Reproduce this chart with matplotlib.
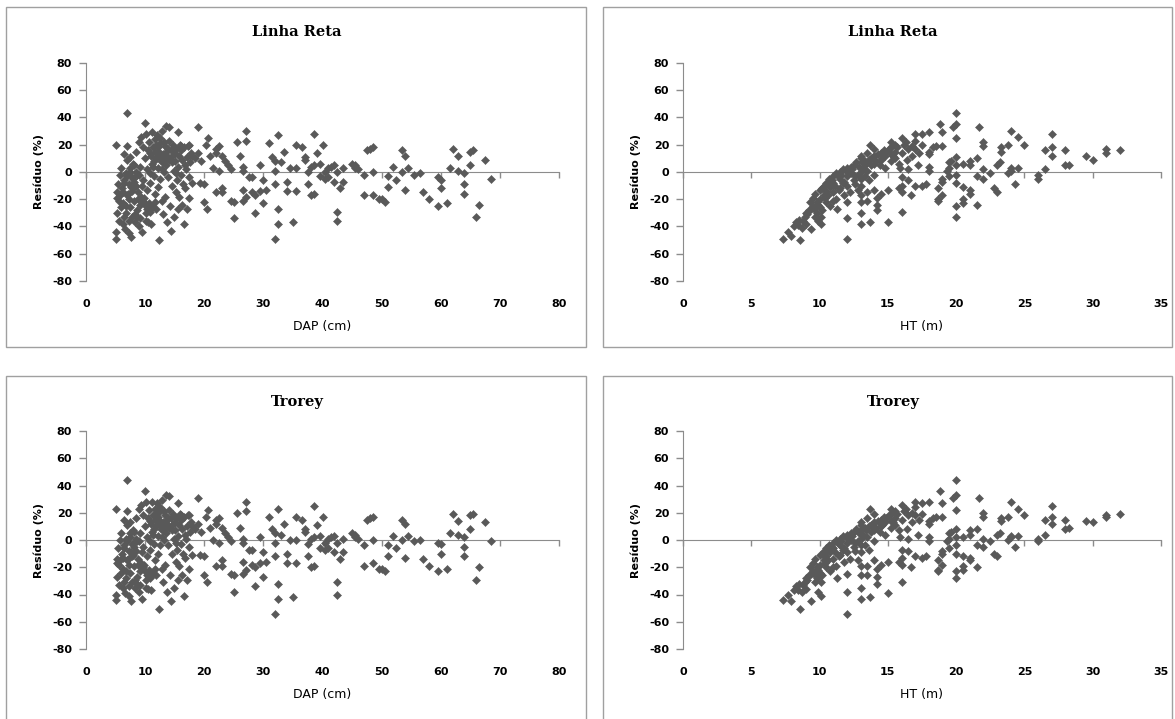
"""
Residue plots (Linha Reta vs Trorey) against DAP and HT, Excel-style 2x2 panels.
"""

import matplotlib
matplotlib.use("Agg")
import matplotlib.pyplot as plt
from matplotlib.patches import Rectangle

# ---- data ----
dap_cm = [
    5.0, 5.1, 5.0, 5.2, 5.3, 5.4, 5.5, 5.6, 5.7, 5.8,
    6.0, 6.1, 6.2, 6.3, 6.4, 6.5, 6.6, 6.7, 6.8, 6.9,
    7.0, 7.0, 7.1, 7.2, 7.3, 7.4, 7.5, 7.6, 7.7, 7.8,
    7.9, 8.0, 8.1, 8.2, 8.3, 8.4, 8.5, 8.6, 8.7, 8.8,
    8.9, 9.0, 9.1, 9.2, 9.3, 9.4, 9.5, 9.6, 9.7, 9.8,
    9.9, 10.0, 10.1, 10.2, 10.3, 10.4, 10.5, 10.6, 10.7, 10.8,
    10.9, 11.0, 11.1, 11.2, 11.3, 11.4, 11.5, 11.6, 11.7, 11.8,
    11.9, 12.0, 12.1, 12.2, 12.3, 12.4, 12.5, 12.6, 12.7, 12.8,
    12.9, 13.0, 13.1, 13.2, 13.3, 13.4, 13.5, 13.6, 13.7, 13.8,
    13.9, 14.0, 14.1, 14.2, 14.3, 14.4, 14.5, 14.6, 14.7, 14.8,
    14.9, 15.0, 15.2, 15.3, 15.4, 15.5, 15.6, 15.8, 15.9, 16.0,
    16.2, 16.3, 16.5, 16.6, 16.8, 16.9, 17.0, 17.2, 17.4, 17.6,
    6.5, 7.0, 7.5, 8.0, 8.5, 7.2, 7.8, 6.8, 8.2, 9.0,
    7.4, 6.2, 8.8, 7.6, 6.9, 11.0, 11.5, 12.0, 12.5, 13.0,
    13.5, 14.0, 11.8, 12.2, 13.2, 10.5, 11.3, 12.8, 13.8, 14.5,
    15.1, 10.8, 12.6, 11.6, 13.4, 5.3, 5.9, 6.4, 7.3, 8.3,
    9.3, 9.6, 10.0, 10.4, 10.8, 11.2, 9.1, 8.7, 10.2, 11.6,
    15.3, 15.7, 16.1, 16.4, 16.7, 17.1, 17.5, 17.8, 16.0, 15.5,
    18.0, 18.5, 18.0, 17.5, 19.0, 19.0, 19.5, 19.2, 20.0, 20.0,
    20.5, 20.3, 20.7, 21.0, 21.5, 22.0, 22.0, 22.5, 22.0, 23.0,
    23.0, 22.5, 23.0, 23.5, 24.0, 24.5, 24.5, 25.0, 25.0, 25.5,
    26.0, 26.5, 26.5, 26.5, 26.5, 27.0, 27.0, 27.0, 27.5, 28.0,
    28.0, 28.5, 28.5, 29.5, 29.5, 30.0, 30.0, 30.5, 31.0, 31.5,
    32.0, 32.0, 32.0, 32.5, 32.0, 32.5, 32.5, 33.0, 33.5, 34.0,
    34.0, 34.5, 35.0, 35.5, 35.5, 35.5, 36.5, 37.0, 37.0, 37.5,
    37.5, 38.0, 38.0, 38.5, 38.5, 38.5, 39.0, 39.5, 39.5, 40.0,
    40.5, 40.5, 41.0, 41.0, 41.5, 42.0, 42.0, 42.5, 42.5, 42.5,
    43.0, 43.5, 43.5, 45.0, 45.5, 45.5, 46.0, 47.0, 47.0, 47.5,
    48.0, 48.5, 48.5, 48.5, 49.5, 50.0, 50.5, 51.0, 51.0, 52.0,
    52.5, 53.5, 53.5, 54.0, 54.0, 54.5, 55.5, 56.5, 57.0, 58.0,
    59.5, 59.5, 60.0, 60.0, 61.0, 61.5, 62.0, 63.0, 63.0, 64.0,
    64.0, 64.0, 65.0, 65.0, 65.5, 66.0, 66.5, 67.5, 68.5,
]
res_linha_dap = [
    20, -49, -44, -19, -15, -9, -21, -36, -2, -17,
    3, -12, -38, -23, -6, 13, -42, -30, -1, 9,
    43, 19, -16, -45, -9, 11, -26, -48, -4, -33,
    6, -12, -21, -7, -37, 0, 15, -28, -2, -15,
    22, -40, 4, -24, 26, -10, -44, 18, -6, -19,
    36, 10, -30, 28, -13, 2, -37, 22, -23, 14,
    -8, -38, 29, 6, -26, 18, -3, 24, -16, 10,
    -27, 27, 3, -11, 15, -50, 21, -5, 8, -21,
    30, 13, -31, 0, 19, -18, 5, 34, -37, 11,
    -4, 33, 23, -25, 16, -43, 7, -10, 20, 1,
    -33, 14, -15, 17, -6, 29, 4, -18, 20, -2,
    -24, 9, -38, 18, -12, 2, -27, 19, -4, 7,
    -8, -3, 0, -5, -10, -20, -14, -25, 5, -2,
    3, -15, -20, -11, -17, 12, 8, 14, 11, 7,
    15, 9, 20, 18, 22, 16, 4, 2, 17, 12,
    8, -1, 25, 15, 10, -30, -26, -33, -36, -31,
    -18, -21, -24, -27, -29, -25, -34, -33, -36, -22,
    -1, 12, 16, -9, 5, 11, -19, 14, 19, -27,
    12, 10, -8, 20, 33, 14, 8, -8, -9, -22,
    -27, 20, 25, 12, 3, 17, 14, 19, -15, -12,
    -15, 1, 12, 8, 5, 2, -21, -22, -34, 22,
    12, 4, 1, -13, -21, -18, 23, 30, -4, -4,
    -15, -17, -30, 5, -14, -23, -6, -13, 21, 11,
    8, 1, -9, -27, -49, -38, 27, 7, 15, -7,
    -14, 3, -37, 3, -14, 20, 18, 9, 11, 0,
    -9, 4, -17, -16, 28, 5, 14, -3, 6, 20,
    0, -5, -4, 3, 4, 5, -7, 0, -29, -36,
    -12, -7, 3, 6, 5, 3, 2, -17, -2, 16,
    17, 18, 0, -17, -20, -20, -22, -3, -11, 4,
    -6, 0, 16, 12, -13, 3, -2, -1, -15, -20,
    -25, -4, -12, -6, -23, 3, 17, 12, 1, -9,
    -16, -1, 5, 15, 16, -33, -24, 9, -5,
]
res_trorey_dap = [
    23, -44, -40, -17, -14, -6, -18, -33, 0, -15,
    5, -10, -35, -21, -4, 15, -39, -28, 1, 11,
    44, 21, -14, -41, -8, 13, -24, -45, -3, -31,
    7, -11, -19, -5, -35, 1, 16, -27, -1, -14,
    23, -38, 5, -23, 26, -9, -43, 18, -5, -18,
    36, 10, -29, 28, -12, 2, -36, 22, -22, 14,
    -7, -37, 28, 6, -25, 18, -3, 23, -15, 10,
    -26, 27, 3, -10, 15, -51, 21, -4, 8, -21,
    29, 13, -31, 0, 18, -18, 5, 33, -38, 11,
    -4, 32, 22, -26, 16, -45, 7, -10, 19, 1,
    -35, 13, -16, 16, -7, 27, 3, -19, 19, -3,
    -26, 8, -41, 17, -13, 1, -29, 18, -5, 6,
    -6, -1, 2, -3, -8, -18, -12, -23, 6, -1,
    5, -13, -18, -9, -15, 12, 8, 14, 11, 7,
    14, 9, 19, 17, 21, 16, 4, 2, 16, 11,
    7, -1, 24, 15, 10, -27, -24, -31, -34, -29,
    -17, -20, -23, -26, -28, -24, -33, -32, -35, -21,
    -2, 11, 15, -10, 4, 10, -21, 13, 18, -29,
    10, 8, -11, 18, 31, 12, 6, -11, -12, -26,
    -31, 17, 22, 9, 0, 15, 12, 16, -19, -15,
    -19, -2, 9, 5, 2, -1, -25, -26, -38, 20,
    9, 1, -2, -16, -25, -22, 21, 28, -7, -7,
    -18, -20, -34, 2, -17, -27, -9, -16, 17, 8,
    5, -2, -12, -32, -54, -43, 23, 4, 12, -10,
    -17, 0, -42, 0, -17, 17, 15, 6, 8, -3,
    -12, 1, -20, -19, 25, 2, 11, -6, 3, 17,
    -2, -7, -6, 1, 2, 3, -9, -2, -31, -40,
    -14, -9, 1, 5, 4, 2, 1, -19, -4, 15,
    16, 17, 0, -17, -21, -21, -23, -4, -12, 3,
    -6, 0, 15, 12, -13, 3, -1, 0, -14, -19,
    -23, -2, -10, -3, -21, 5, 19, 14, 4, -5,
    -12, 2, 8, 18, 19, -29, -20, 13, -1,
]

ht_m = [
    7.3, 7.7, 7.9, 8.1, 8.3, 8.5, 8.6, 8.8, 9.0, 9.0,
    9.2, 9.3, 9.4, 9.5, 9.5, 9.7, 9.8, 9.8, 9.9, 10.0,
    10.0, 10.0, 10.1, 10.1, 10.3, 10.3, 10.5, 10.5, 10.5, 10.7,
    10.8, 10.8, 11.0, 11.0, 11.0, 11.2, 11.2, 11.3, 11.5, 11.5,
    11.5, 11.7, 11.7, 11.8, 12.0, 12.0, 12.0, 12.0, 12.0, 12.0,
    12.3, 12.3, 12.5, 12.5, 12.7, 12.8, 12.8, 13.0, 13.0, 13.0,
    13.0, 13.0, 13.0, 13.0, 13.0, 13.0, 13.2, 13.3, 13.5, 13.5,
    13.5, 13.5, 13.7, 13.7, 13.8, 13.8, 14.0, 14.0, 14.0, 14.0,
    14.0, 14.2, 14.2, 14.2, 14.5, 14.5, 14.5, 14.7, 14.8, 15.0,
    15.0, 15.2, 15.2, 15.2, 15.2, 15.5, 15.5, 15.5, 15.8, 15.8,
    16.0, 16.0, 16.0, 16.0, 16.0, 16.0, 16.3, 16.5, 16.5, 16.5,
    16.7, 16.8, 17.0, 17.0, 17.0, 17.0, 17.2, 17.5, 17.5, 17.5,
    18.0, 18.0, 18.0, 18.0, 18.0, 18.5, 18.7, 18.7, 18.7, 18.8,
    19.0, 19.0, 19.0, 19.0, 19.0, 19.3, 19.5, 19.5, 19.5, 19.8,
    20.0, 20.0, 20.0, 20.0, 20.0, 20.0, 20.0, 20.0, 20.0, 20.5,
    20.5, 20.5, 20.5, 21.0, 21.0, 21.0, 21.0, 21.5, 21.5, 21.5,
    21.7, 22.0, 22.0, 22.0, 22.0, 22.5, 22.8, 23.0, 23.0, 23.2,
    23.3, 23.3, 23.8, 23.8, 24.0, 24.0, 24.0, 24.3, 24.5, 24.5,
    25.0, 26.0, 26.0, 26.5, 26.5, 27.0, 27.0, 27.0, 28.0, 28.0,
    28.3, 29.5, 30.0, 31.0, 31.0, 32.0,
    10.2, 10.6, 10.9, 11.1, 11.4, 11.6, 11.9, 12.2, 12.4, 12.6,
    12.9, 13.1, 13.4, 13.6, 13.9, 14.1, 14.3, 14.6, 14.9, 15.1,
    9.6, 9.9, 10.2, 10.4, 10.6, 11.0, 11.4, 11.8, 12.2, 12.6,
    8.9, 9.1, 9.4, 8.4, 8.7, 9.7, 13.3, 13.6, 14.4, 14.8,
    15.4, 15.7, 16.2, 16.8, 17.3, 15.9, 16.4, 17.8, 18.3, 19.6,
]
res_linha_ht = [
    -49, -44, -47, -40, -37, -35, -50, -36, -38, -30,
    -28, -22, -42, -19, -25, -16, -22, -30, -36, -13,
    -20, -26, -33, -38, -10, -17, -8, -14, -22, -5,
    -11, -25, -3, -8, -15, -1, -20, -27, 0, -5,
    -12, 2, -8, -17, 3, -3, -10, -22, -34, -49,
    4, -1, -6, 5, 7, -2, -13, 10, 12, 0,
    -5, -10, -17, -22, -30, -38, 3, 8, 14, 1,
    -15, -21, -37, 20, 5, 10, -2, 6, 12, 17,
    -13, -19, -24, -28, 9, 14, -16, 16, 12, -13,
    -37, 22, 18, 13, 8, 10, 15, 20, -12, 6,
    25, 14, -4, -10, -15, -29, 22, 17, -6, 2,
    -17, 12, 23, 28, 17, -10, 5, 28, 20, -10,
    29, 15, 13, 4, 1, 19, -12, -20, -21, 35,
    29, 19, -5, -7, -17, 1, 7, 3, -3, 33,
    35, 43, 25, 11, 5, -2, -8, -25, -33, 6,
    -11, -20, -23, 5, 8, -13, -16, 10, -3, -24,
    33, 22, 19, 2, -5, -1, -12, -15, 5, 7,
    15, 18, 20, -1, 1, 3, 30, -9, 3, 26,
    20, -2, -5, 2, 16, 12, 18, 28, 5, 16,
    5, 12, 9, 14, 17, 16,
    -12, -9, -6, -10, -4, -2, 1, 0, 2, -3,
    4, 7, 6, 9, 11, 8, 13, 10, 15, 17,
    -27, -24, -28, -19, -17, -21, -13, -7, -15, -9,
    -33, -31, -27, -39, -41, -33, -3, -6, 5, 3,
    12, 18, 20, 19, 14, 3, 9, -9, 18, 8,
]
res_trorey_ht = [
    -44, -40, -45, -37, -34, -32, -51, -33, -36, -28,
    -26, -20, -45, -17, -23, -14, -20, -28, -38, -11,
    -18, -24, -31, -41, -8, -15, -6, -12, -20, -4,
    -9, -23, -2, -6, -14, 0, -19, -28, 1, -4,
    -11, 3, -7, -16, 4, -2, -9, -25, -38, -54,
    5, 0, -5, 6, 8, -1, -15, 11, 13, 1,
    -4, -9, -19, -26, -35, -43, 4, 9, 16, 2,
    -19, -26, -42, 23, 6, 11, -1, 7, 13, 19,
    -15, -21, -27, -32, 10, 15, -18, 17, 13, -16,
    -39, 23, 19, 14, 9, 11, 16, 21, -16, 7,
    26, 15, -7, -13, -18, -31, 23, 18, -8, 1,
    -20, 13, 24, 28, 18, -12, 4, 27, 19, -13,
    28, 14, 12, 2, -1, 17, -15, -22, -23, 36,
    27, 17, -8, -10, -18, -1, 5, 1, -6, 31,
    33, 44, 22, 8, 2, -4, -10, -23, -28, 2,
    -12, -19, -22, 4, 7, -13, -15, 8, -4, -20,
    31, 20, 17, 1, -5, -1, -10, -12, 4, 5,
    14, 16, 17, 0, 2, 3, 28, -5, 3, 23,
    18, 1, -1, 4, 15, 12, 17, 25, 8, 15,
    9, 14, 13, 17, 18, 19,
    -10, -7, -5, -9, -3, -1, 2, 1, 3, -2,
    5, 8, 7, 10, 12, 9, 14, 11, 16, 18,
    -25, -22, -26, -17, -15, -20, -12, -6, -14, -8,
    -31, -29, -25, -37, -38, -31, -4, -7, 6, 4,
    13, 19, 21, 20, 15, 2, 8, -12, 16, 6,
]

titles = ["Linha Reta", "Linha Reta", "Trorey", "Trorey"]
dap_ticks = [0, 10, 20, 30, 40, 50, 60, 70, 80]
ht_ticks = [0, 5, 10, 15, 20, 25, 30, 35]
res_ticks = [-80, -60, -40, -20, 0, 20, 40, 60, 80]

# ---- styling / layout (pixels of a 1175x719 canvas) ----
W, H = 1175, 719
MARKER = "#595959"
AXIS_GRAY = "#8c8c8c"
BOX_GRAY = "#a0a0a0"


def fig_rect(left, top, right, bottom):
    return [left / W, 1 - bottom / H, (right - left) / W, (bottom - top) / H]


fig = plt.figure(figsize=(W / 100, H / 100), dpi=100)

panels = [
    # box, plot area, title x/y, x data, y data, xmax, ticks, xlabel
    ((6, 7, 586, 347), (86, 63, 559, 281), (297, 32), dap_cm, res_linha_dap, 80, dap_ticks, "DAP (cm)"),
    ((603, 7, 1172, 347), (683, 63, 1161, 281), (893, 32), ht_m, res_linha_ht, 35, ht_ticks, "HT (m)"),
    ((6, 376, 586, 730), (86, 431, 559, 649), (297, 402), dap_cm, res_trorey_dap, 80, dap_ticks, "DAP (cm)"),
    ((603, 376, 1172, 730), (683, 431, 1161, 649), (893, 402), ht_m, res_trorey_ht, 35, ht_ticks, "HT (m)"),
]

for (box, area, tpos, xs, ys, xmax, ticks, xlabel), title in zip(panels, titles):
    # chart-area border
    fig.patches.append(Rectangle((box[0] / W, 1 - box[3] / H), (box[2] - box[0]) / W,
                                 (box[3] - box[1]) / H, transform=fig.transFigure,
                                 fill=False, edgecolor=BOX_GRAY, linewidth=1))
    fig.text(tpos[0] / W, 1 - tpos[1] / H, title, ha="center", va="center",
             family="DejaVu Serif", fontweight="bold", fontsize=10.5)

    ax = fig.add_axes(fig_rect(*area))
    ax.plot(xs, ys, linestyle="none", marker="D", markersize=4.3,
            color=MARKER, markeredgewidth=0.4, markeredgecolor=MARKER, zorder=3)
    ax.set_xlim(0, xmax)
    ax.set_ylim(-80, 80)
    ax.set_xticks(ticks, [str(t) for t in ticks])
    ax.set_yticks(res_ticks, [str(t) for t in res_ticks])
    plt.setp(ax.get_xticklabels() + ax.get_yticklabels(), fontweight="bold")

    for side in ["top", "right", "bottom"]:
        ax.spines[side].set_visible(False)
    ax.spines["left"].set_color(AXIS_GRAY)
    ax.tick_params(axis="y", direction="out", length=5, width=1, color=AXIS_GRAY,
                   pad=5, labelsize=8)
    ax.tick_params(axis="x", length=0, pad=13, labelsize=8)

    # horizontal axis line at zero with its ticks
    zero = ax.secondary_xaxis(0.5)
    zero.set_xticks(ticks)
    zero.spines["top"].set_color(AXIS_GRAY)
    zero.tick_params(axis="x", direction="in", length=4, width=1, color=AXIS_GRAY,
                     labeltop=False, labelbottom=False)

    ax.set_xlabel(xlabel, fontsize=9)
    ax.xaxis.set_label_coords(0.5, -0.179)
    ax.set_ylabel("Resíduo (%)", fontweight="bold", fontsize=8)
    ax.yaxis.set_label_coords(-42 / (area[2] - area[0]), 0.5)

plt.savefig("out.png", dpi=100)
plt.close()
